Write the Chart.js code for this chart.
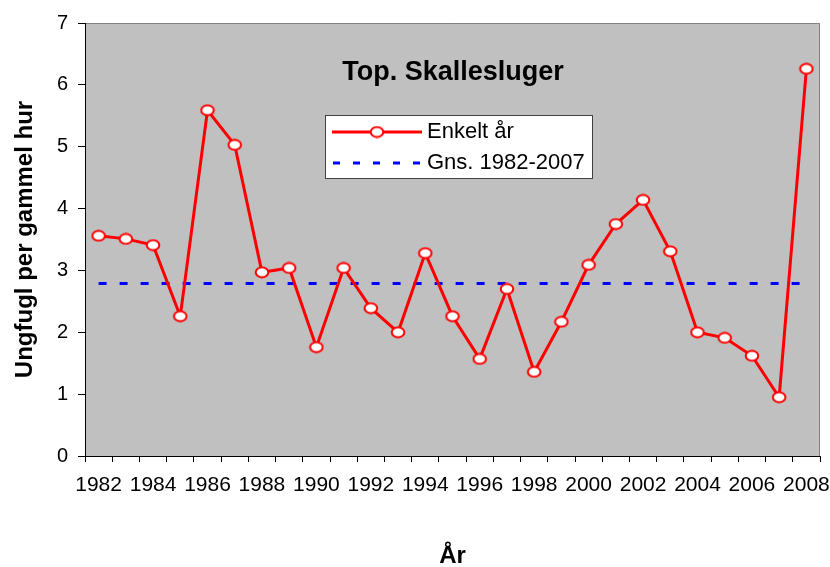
<!DOCTYPE html>
<html>
<head>
<meta charset="utf-8">
<script src="https://cdn.jsdelivr.net/npm/chart.js@4/dist/chart.umd.min.js"></script>
<style>
  html, body { margin: 0; padding: 0; background: #fff; }
</style>
</head>
<body>
<canvas id="chart" width="830" height="567"></canvas>
<script>
// data
const years = ['1982','1983','1984','1985','1986','1987','1988','1989','1990','1991','1992','1993','1994',
               '1995','1996','1997','1998','1999','2000','2001','2002','2003','2004','2005','2006','2007','2008'];
const enkeltAar = [3.56, 3.51, 3.41, 2.26, 5.59, 5.03, 2.97, 3.04, 1.76, 3.04, 2.39, 2.00, 3.28,
                   2.26, 1.57, 2.70, 1.36, 2.17, 3.09, 3.75, 4.14, 3.31, 2.00, 1.91, 1.62, 0.95, 6.26];
const gns = [2.79, 2.79, 2.79, 2.79, 2.79, 2.79, 2.79, 2.79, 2.79, 2.79, 2.79, 2.79, 2.79,
             2.79, 2.79, 2.79, 2.79, 2.79, 2.79, 2.79, 2.79, 2.79, 2.79, 2.79, 2.79, 2.79, 2.79];
const yTicks = [0, 1, 2, 3, 4, 5, 6, 7];

const FONT = "'Liberation Sans', Arial, sans-serif";

// slightly wide open circle marker
const marker = document.createElement('canvas');
marker.width = 16; marker.height = 13;
const mc = marker.getContext('2d');
mc.beginPath();
mc.ellipse(8, 6.5, 6.3, 5, 0, 0, Math.PI * 2);
mc.fillStyle = '#fff';
mc.fill();
mc.lineWidth = 2;
mc.strokeStyle = '#ff0000';
mc.stroke();

// grey plot area with grey top/right border
const plotArea = {
  id: 'plotArea',
  beforeDraw(chart) {
    const { ctx, chartArea: a } = chart;
    ctx.save();
    ctx.fillStyle = '#c0c0c0';
    ctx.fillRect(a.left, a.top, a.right - a.left, a.bottom - a.top);
    ctx.strokeStyle = '#808080';
    ctx.lineWidth = 1;
    ctx.beginPath();
    ctx.moveTo(a.left, a.top + 0.5);
    ctx.lineTo(a.right - 0.5, a.top + 0.5);
    ctx.lineTo(a.right - 0.5, a.bottom);
    ctx.stroke();
    ctx.restore();
  }
};

// title and legend box, both inside the plot
const insideText = {
  id: 'insideText',
  afterDatasetsDraw(chart) {
    const { ctx, chartArea: a } = chart;
    ctx.save();
    ctx.fillStyle = '#000';
    ctx.font = `bold 27px ${FONT}`;
    ctx.textAlign = 'center';
    ctx.textBaseline = 'middle';
    ctx.fillText('Top. Skallesluger', a.left + 368, a.top + 50);

    const bx = a.left + 240, by = a.top + 92, bw = 267, bh = 63;
    ctx.fillStyle = '#fff';
    ctx.fillRect(bx, by, bw, bh);
    ctx.strokeStyle = '#404040';
    ctx.lineWidth = 1;
    ctx.strokeRect(bx + 0.5, by + 0.5, bw, bh);

    // row 1
    const r1 = by + 17, r2 = by + 48;
    ctx.strokeStyle = '#ff0000';
    ctx.lineWidth = 3;
    ctx.beginPath();
    ctx.moveTo(bx + 7, r1);
    ctx.lineTo(bx + 97, r1);
    ctx.stroke();
    ctx.drawImage(marker, bx + 52 - 8, r1 - 6.5);

    // row 2
    ctx.strokeStyle = '#0000ff';
    ctx.setLineDash([7, 13]);
    ctx.beginPath();
    ctx.moveTo(bx + 8, r2);
    ctx.lineTo(bx + 97, r2);
    ctx.stroke();
    ctx.setLineDash([]);

    ctx.fillStyle = '#000';
    ctx.font = `22px ${FONT}`;
    ctx.textAlign = 'left';
    ctx.fillText('Enkelt år', bx + 102, r1);
    ctx.fillText('Gns. 1982-2007', bx + 102, r2);
    ctx.restore();
  }
};

new Chart(document.getElementById('chart'), {
  type: 'line',
  data: {
    labels: years,
    datasets: [
      {
        label: 'Enkelt år',
        data: enkeltAar,
        borderColor: '#ff0000',
        borderWidth: 3,
        pointStyle: marker,
        pointRadius: 6,
        tension: 0,
        order: 1
      },
      {
        label: 'Gns. 1982-2007',
        data: gns,
        borderColor: '#0000ff',
        borderWidth: 3,
        borderDash: [8, 13],
        pointRadius: 0,
        tension: 0,
        order: 2
      }
    ]
  },
  options: {
    responsive: false,
    animation: false,
    layout: { padding: { top: 23, right: 10, left: 0, bottom: 0 } },
    plugins: {
      legend: { display: false },
      title: { display: false },
      tooltip: { enabled: false }
    },
    scales: {
      x: {
        offset: true,
        grid: { offset: true, drawOnChartArea: false, drawTicks: true, tickLength: 6, color: '#000' },
        border: { color: '#000', width: 1 },
        ticks: {
          autoSkip: false,
          maxRotation: 0,
          color: '#000',
          padding: 11,
          font: { family: FONT, size: 21 },
          callback: (v, i) => (i % 2 === 0 ? years[i] : '')
        },
        title: {
          display: true,
          text: 'År',
          color: '#000',
          font: { family: FONT, size: 24, weight: 'bold' },
          padding: { top: 0, bottom: -4 }
        },
        afterFit(scale) {
          scale.height = 111;
          scale.paddingLeft = 0;
          scale.paddingRight = 0;
        }
      },
      y: {
        min: 0,
        max: 7,
        afterBuildTicks(scale) { scale.ticks = yTicks.map(v => ({ value: v })); },
        grid: { drawOnChartArea: false, drawTicks: true, tickLength: 7, color: '#000' },
        border: { color: '#000', width: 1 },
        ticks: {
          color: '#000',
          padding: 10,
          font: { family: FONT, size: 20 }
        },
        title: {
          display: true,
          text: 'Ungfugl per gammel hur',
          color: '#000',
          font: { family: FONT, size: 24, weight: 'bold' },
          padding: { top: 11, bottom: 0 }
        },
        afterFit(scale) {
          scale.width = 85;
          scale.paddingTop = 0;
          scale.paddingBottom = 0;
        }
      }
    }
  },
  plugins: [plotArea, insideText]
});
</script>
</body>
</html>
